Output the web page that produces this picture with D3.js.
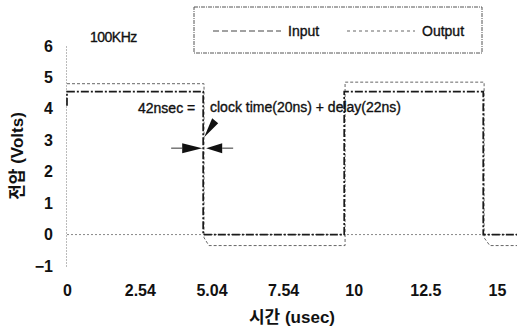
<!DOCTYPE html>
<html>
<head>
<meta charset="utf-8">
<script src="https://cdn.jsdelivr.net/npm/d3@7"></script>
<style>
  body { margin: 0; background: #fff; }
  text { font-family: "Liberation Sans", Arial, "Noto Sans CJK KR", sans-serif; fill: #111; }
  .heavy { stroke: #111; stroke-width: 0.35px; }
</style>
</head>
<body>
<div id="chart"></div>
<script>
// axis ticks
const timeTicks = [0, 2.54, 5.04, 7.54, 10, 12.5, 15];
const timeLabels = ['0', '2.54', '5.04', '7.54', '10', '12.5', '15'];
const voltTicks = [-1, 0, 1, 2, 3, 4, 5, 6];

// traces: time (usec) / volts
const inputTime  = [0, 0, 4.75, 4.75, 9.67, 9.67, 14.52, 14.52, 15.8];
const inputVolts = [4.1, 4.55, 4.55, 0, 0, 4.55, 4.55, 0, 0];
const outputTime  = [0, 4.78, 4.78, 4.95, 9.7, 9.7, 14.55, 14.55, 14.75, 15.8];
const outputVolts = [4.8, 4.8, -0.1, -0.35, -0.35, 4.85, 4.85, -0.1, -0.35, -0.35];

const seriesNames = ['Input', 'Output'];

const width = 517, height = 331;

const svg = d3.select('#chart').append('svg')
    .attr('width', width)
    .attr('height', height);

const x = d3.scaleLinear().domain([0, 15]).range([67, 497]);
const y = d3.scaleLinear().domain([-1, 6]).range([266, 46]);

// y axis (dotted)
const yAxis = svg.append('g')
    .attr('transform', `translate(${x(0) - 1},0)`)
    .call(d3.axisLeft(y).tickValues(voltTicks).tickSize(0).tickPadding(13).tickFormat(d3.format('d')));
yAxis.select('.domain').attr('stroke', '#777').attr('stroke-dasharray', '1,2');
yAxis.selectAll('text')
    .style('font-size', '16px')
    .style('font-weight', 'bold');

// x labels sit below the plot, zero line drawn separately
const xAxis = svg.append('g')
    .attr('transform', `translate(0,${y(-1)})`)
    .call(d3.axisBottom(x).tickValues(timeTicks).tickSize(0).tickPadding(19)
        .tickFormat((d, i) => timeLabels[i]));
xAxis.select('.domain').remove();
xAxis.selectAll('text')
    .style('font-size', '16px')
    .style('font-weight', 'bold');

svg.append('line')
    .attr('x1', x(0)).attr('x2', width)
    .attr('y1', y(0)).attr('y2', y(0))
    .attr('stroke', '#888')
    .attr('stroke-dasharray', '2,2');

// traces
const line = d3.line().x(d => x(d[0])).y(d => y(d[1]));
const inputData = inputTime.map((t, i) => [t, inputVolts[i]]);
const outputData = outputTime.map((t, i) => [t, outputVolts[i]]);

const styles = {
    Input: {stroke: '#1a1a1a', width: 1.7, dash: '8,2,2,2'},
    Output: {stroke: '#666', width: 1, dash: '3,2'}
};

svg.append('path')
    .datum(outputData)
    .attr('d', line)
    .attr('fill', 'none')
    .attr('stroke', styles.Output.stroke)
    .attr('stroke-width', styles.Output.width)
    .attr('stroke-dasharray', styles.Output.dash);

svg.append('path')
    .datum(inputData)
    .attr('d', line)
    .attr('fill', 'none')
    .attr('stroke', styles.Input.stroke)
    .attr('stroke-width', styles.Input.width)
    .attr('stroke-dasharray', styles.Input.dash);

// legend
const legend = svg.append('g');
legend.append('rect')
    .attr('x', 194).attr('y', 7)
    .attr('width', 288).attr('height', 46)
    .attr('fill', 'none')
    .attr('stroke', '#555')
    .attr('stroke-dasharray', '4,1,1,1');

const legendX = [213, 347];
seriesNames.forEach((name, i) => {
    legend.append('line')
        .attr('x1', legendX[i]).attr('x2', legendX[i] + 68)
        .attr('y1', 31).attr('y2', 31)
        .attr('stroke', i === 0 ? '#444' : '#666')
        .attr('stroke-width', 1)
        .attr('stroke-dasharray', i === 0 ? '6,3' : '3,3');
    legend.append('text')
        .attr('class', 'heavy')
        .attr('x', legendX[i] + 75)
        .attr('y', 36)
        .style('font-size', '14px')
        .text(name);
});

// annotations
svg.append('text')
    .attr('class', 'heavy')
    .attr('x', 90).attr('y', 42)
    .style('font-size', '14px')
    .style('letter-spacing', '-0.5px')
    .text('100KHz');

svg.append('text')
    .attr('class', 'heavy')
    .attr('x', 138).attr('y', 113)
    .style('font-size', '14px')
    .text('42nsec =');

svg.append('text')
    .attr('class', 'heavy')
    .attr('x', 210).attr('y', 112)
    .style('font-size', '14px')
    .text('clock time(20ns) + delay(22ns)');

const ex = x(inputTime[2]);
const ey = y(2.75);

svg.append('path')
    .attr('d', `M${ex - 21},${ey - 5}L${ex - 1},${ey}L${ex - 21},${ey + 5}Z`)
    .attr('fill', '#111');
svg.append('path')
    .attr('d', `M${ex + 19},${ey - 5}L${ex + 3},${ey}L${ex + 19},${ey + 5}Z`)
    .attr('fill', '#111');
svg.append('path')
    .attr('d', `M${ex + 1},${ey - 11}L${ex + 9},${ey - 30}L${ex + 15},${ey - 25}Z`)
    .attr('fill', '#111');
svg.append('line')
    .attr('x1', ex - 32).attr('x2', ex - 21)
    .attr('y1', ey).attr('y2', ey)
    .attr('stroke', '#333');
svg.append('line')
    .attr('x1', ex + 19).attr('x2', ex + 30)
    .attr('y1', ey).attr('y2', ey)
    .attr('stroke', '#333');

// axis titles
svg.append('text')
    .attr('transform', 'translate(23,156) rotate(-90)')
    .attr('text-anchor', 'middle')
    .style('font-size', '17px')
    .style('font-weight', 'bold')
    .text('전압 (Volts)');

svg.append('text')
    .attr('x', 292).attr('y', 323)
    .attr('text-anchor', 'middle')
    .style('font-size', '17px')
    .style('font-weight', 'bold')
    .text('시간 (usec)');
</script>
</body>
</html>
